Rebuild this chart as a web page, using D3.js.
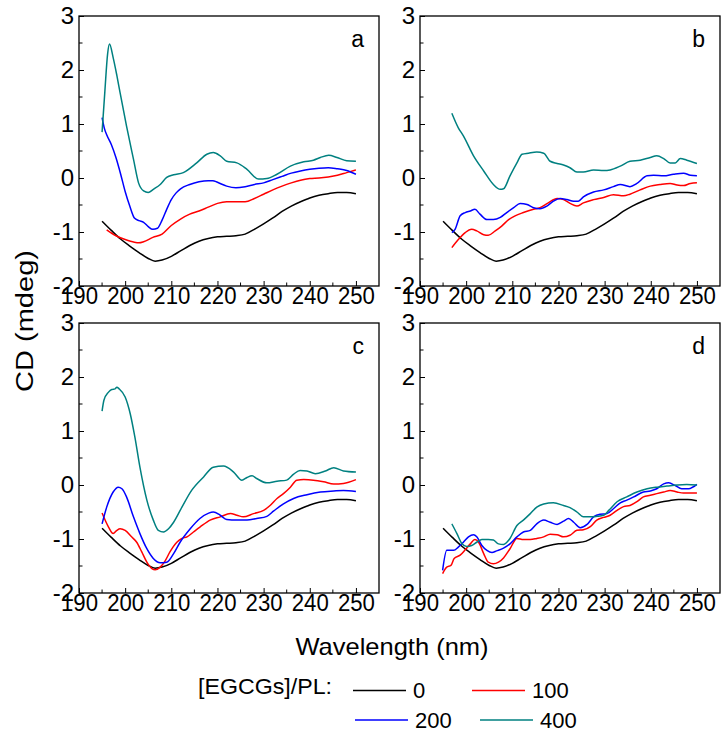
<!DOCTYPE html>
<html><head><meta charset="utf-8">
<script src="https://cdn.jsdelivr.net/npm/d3@7"></script>
<style>
html,body{margin:0;padding:0;background:#fff;}
svg text{font-family:"Liberation Sans",Arial,sans-serif;fill:#000;}
</style></head>
<body><svg id="chart" width="726" height="734"></svg>
<script>
// ---------- data ----------
const ratios = ["0", "100", "200", "400"];
const seriesColors = ["#000000", "#ff0000", "#0000ff", "#008080"];
const panelLabels = ["a", "b", "c", "d"];
const xTicks = [190, 200, 210, 220, 230, 240, 250];
const yTicks = [-2, -1, 0, 1, 2, 3];

// [EGCGs]/PL = 0 (same control spectrum in every panel)
const control = [[195,-0.80],[197,-0.97],[199,-1.13],[201,-1.26],[203,-1.38],[205,-1.49],[206.5,-1.54],[208,-1.52],[210,-1.45],[212,-1.35],[214,-1.25],[216,-1.17],[218,-1.12],[220,-1.09],[222,-1.08],[224,-1.07],[226,-1.04],[228,-0.95],[230,-0.85],[232,-0.74],[234,-0.62],[236,-0.52],[238,-0.44],[240,-0.37],[242,-0.32],[244,-0.29],[246,-0.27],[248,-0.27],[250,-0.29]];

// panel a
const a100 = [[196,-0.96],[198,-1.07],[200,-1.14],[202,-1.19],[203,-1.20],[204,-1.18],[206,-1.10],[208,-1.04],[210,-0.88],[212,-0.76],[214,-0.67],[216,-0.61],[218,-0.54],[220,-0.47],[222,-0.44],[224,-0.44],[226,-0.44],[228,-0.38],[230,-0.30],[232,-0.22],[234,-0.15],[236,-0.09],[238,-0.04],[240,-0.01],[242,0.00],[244,0.02],[246,0.05],[248,0.10],[250,0.15]];
const a200 = [[195,1.12],[195.5,0.92],[196,0.80],[197,0.62],[198,0.38],[199,0.08],[200,-0.25],[201,-0.52],[202,-0.74],[203,-0.79],[204,-0.82],[205,-0.90],[206,-0.95],[207,-0.93],[208,-0.78],[209,-0.58],[210,-0.40],[211,-0.28],[212,-0.20],[214,-0.12],[216,-0.07],[218,-0.05],[219,-0.05],[220,-0.08],[222,-0.15],[224,-0.18],[226,-0.16],[228,-0.12],[230,-0.09],[232,-0.03],[234,0.03],[236,0.09],[238,0.13],[240,0.16],[242,0.18],[244,0.19],[246,0.17],[248,0.14],[250,0.07]];
const a400 = [[195,0.85],[195.6,1.6],[196.2,2.3],[196.6,2.48],[197.4,2.23],[198.2,1.90],[198.9,1.58],[200.3,0.96],[201.8,0.35],[202.9,-0.09],[204,-0.24],[205,-0.27],[206.1,-0.21],[207.6,-0.12],[209,0.01],[210.5,0.06],[212.6,0.10],[215.5,0.28],[217.7,0.44],[219.1,0.47],[220.6,0.41],[222,0.31],[224.2,0.28],[226.4,0.16],[228.9,-0.02],[230.7,-0.01],[232.9,0.07],[235.8,0.22],[238.7,0.30],[240.8,0.33],[242.3,0.38],[244.1,0.42],[245.9,0.38],[248,0.32],[250,0.31]];

// panel b
const b100 = [[196.9,-1.29],[198.3,-1.14],[199.8,-1.01],[201.2,-0.95],[202.3,-0.98],[203.8,-1.05],[204.8,-1.06],[206.3,-0.98],[207.7,-0.89],[209.2,-0.77],[210.6,-0.70],[212.4,-0.64],[214.6,-0.58],[216,-0.55],[217.8,-0.46],[219.7,-0.38],[221.1,-0.40],[222.5,-0.47],[224,-0.52],[225.4,-0.46],[227.6,-0.40],[229.8,-0.36],[231.9,-0.31],[234.1,-0.33],[235.5,-0.30],[237.7,-0.22],[239.9,-0.15],[242,-0.12],[244.2,-0.10],[245.7,-0.13],[247.1,-0.14],[248.6,-0.10],[250,-0.09]];
const b200 = [[196.9,-1.01],[197.6,-0.95],[198.7,-0.70],[199.8,-0.64],[200.9,-0.61],[201.9,-0.58],[203,-0.67],[204.5,-0.77],[205.9,-0.77],[207.4,-0.73],[208.8,-0.64],[210.3,-0.55],[211.7,-0.47],[213.2,-0.49],[214.6,-0.55],[216,-0.57],[217.5,-0.52],[218.9,-0.43],[220.4,-0.38],[221.8,-0.40],[223.3,-0.43],[224.3,-0.43],[225.4,-0.35],[227.6,-0.26],[229.8,-0.22],[231.9,-0.16],[233.4,-0.12],[235.5,-0.16],[237,-0.10],[239.2,0.04],[240.6,0.05],[242.8,0.04],[244.9,0.07],[247.1,0.09],[248.6,0.05],[250,0.04]];
const b400 = [[196.9,1.20],[198.3,0.93],[199.4,0.78],[201.6,0.41],[203.8,0.13],[205.9,-0.12],[207.4,-0.21],[208.1,-0.20],[209.5,0.04],[211,0.28],[212.1,0.44],[213.5,0.46],[215.3,0.48],[216.8,0.46],[218.2,0.31],[219.7,0.27],[221.1,0.24],[222.5,0.19],[224,0.11],[225.4,0.11],[227.6,0.15],[229.8,0.14],[231.2,0.15],[233.4,0.22],[235.5,0.31],[237.7,0.33],[239.9,0.38],[241.3,0.41],[242.8,0.36],[244.2,0.28],[245.3,0.28],[246.4,0.36],[247.8,0.33],[250,0.27]];

// panel c
const c100 = [[195,-0.52],[196.4,-0.78],[197.4,-0.90],[198.2,-0.84],[198.9,-0.81],[200,-0.84],[201.4,-0.96],[202.5,-1.06],[203.6,-1.24],[204.7,-1.43],[205.8,-1.55],[206.5,-1.57],[207.6,-1.52],[208.7,-1.40],[209.7,-1.24],[211.2,-1.06],[212.3,-0.99],[213.4,-0.96],[214.8,-0.87],[216.2,-0.78],[218.4,-0.65],[220.6,-0.59],[222.8,-0.53],[224.2,-0.56],[225.6,-0.59],[227.8,-0.53],[230,-0.47],[231.4,-0.38],[232.9,-0.25],[234.3,-0.16],[235.8,-0.04],[237.2,0.09],[238.7,0.10],[240.8,0.09],[243,0.06],[245.2,0.02],[247.3,0.03],[250,0.10]];
const c200 = [[195,-0.72],[196,-0.41],[197.4,-0.13],[198.5,-0.04],[199.3,-0.07],[200.3,-0.22],[201.8,-0.59],[203.2,-0.90],[204.7,-1.18],[206.1,-1.36],[207.6,-1.44],[209,-1.43],[210.5,-1.27],[211.9,-1.06],[214.1,-0.81],[216.2,-0.62],[218.1,-0.52],[219.1,-0.50],[220.6,-0.56],[222,-0.64],[224.2,-0.65],[226.4,-0.65],[228.5,-0.62],[230.7,-0.58],[232.2,-0.48],[234.3,-0.35],[236.5,-0.25],[239.4,-0.18],[242.3,-0.13],[245.2,-0.11],[247.3,-0.10],[250,-0.12]];
const c400 = [[195,1.37],[195.4,1.57],[196.4,1.72],[197.1,1.77],[197.8,1.78],[198.2,1.81],[198.7,1.78],[200,1.63],[201.1,1.32],[202.1,0.89],[203.2,0.33],[204.7,-0.28],[206.1,-0.65],[207.2,-0.84],[208.3,-0.87],[209.4,-0.81],[210.5,-0.69],[212.3,-0.41],[214.4,-0.10],[217,0.15],[219.1,0.33],[221.3,0.35],[223.5,0.24],[225.3,0.09],[226.4,0.14],[227.5,0.17],[228.5,0.12],[230.7,0.04],[232.9,0.07],[235,0.09],[236.5,0.20],[237.9,0.27],[239.4,0.26],[241.2,0.21],[243.4,0.26],[245.2,0.32],[247.3,0.26],[250,0.24]];

// panel d
const d100 = [[194.9,-1.64],[195.8,-1.52],[196.7,-1.49],[197.4,-1.36],[198.7,-1.30],[199.8,-1.20],[200.9,-1.09],[201.9,-1.01],[202.7,-1.06],[203.8,-1.27],[204.8,-1.43],[205.9,-1.46],[207,-1.43],[208.1,-1.35],[209.5,-1.18],[211,-0.99],[212.4,-1.01],[213.9,-1.01],[215.3,-0.99],[216.8,-0.96],[218.2,-0.91],[219.7,-0.92],[221.1,-0.96],[222.5,-0.93],[224,-0.84],[225.4,-0.83],[226.9,-0.77],[228.3,-0.65],[229.8,-0.60],[231.2,-0.56],[232.7,-0.47],[234.1,-0.40],[235.5,-0.38],[237,-0.31],[238.4,-0.22],[239.9,-0.19],[241.3,-0.16],[242.8,-0.13],[244.2,-0.10],[245.7,-0.13],[247.1,-0.15],[248.6,-0.15],[250,-0.15]];
const d200 = [[194.9,-1.58],[195.8,-1.21],[197.3,-1.21],[198.3,-1.15],[199.4,-1.06],[200.5,-0.96],[201.6,-0.92],[202.3,-0.96],[203.4,-1.12],[204.5,-1.21],[205.6,-1.25],[206.6,-1.22],[208.1,-1.17],[209.5,-1.09],[211,-0.96],[212.4,-0.87],[213.9,-0.84],[215.3,-0.72],[216.8,-0.65],[218.2,-0.69],[219.7,-0.73],[221.1,-0.67],[222.2,-0.62],[223.3,-0.69],[224.7,-0.79],[226.2,-0.73],[227.6,-0.59],[229,-0.54],[230.5,-0.53],[231.9,-0.44],[233.4,-0.33],[234.8,-0.28],[236.3,-0.22],[238.4,-0.13],[239.9,-0.11],[241.3,-0.07],[242.8,0.02],[243.9,0.04],[245.3,-0.01],[246.7,-0.07],[248.2,-0.07],[250,0.01]];
const d400 = [[196.9,-0.72],[198,-0.90],[199.1,-1.09],[200.1,-1.14],[201.2,-1.12],[202.3,-1.06],[203.4,-1.01],[204.8,-1.01],[205.9,-1.02],[207,-1.09],[208.1,-1.10],[209.5,-0.99],[211,-0.75],[212.4,-0.65],[213.9,-0.53],[215.3,-0.41],[216.8,-0.35],[218.9,-0.33],[221.1,-0.38],[222.5,-0.42],[224,-0.50],[225.4,-0.59],[226.9,-0.59],[228.3,-0.58],[229.8,-0.56],[230.9,-0.47],[232.7,-0.31],[234.8,-0.22],[237,-0.13],[239.2,-0.07],[241.3,-0.04],[243.5,-0.02],[245.7,0.00],[247.8,0.01],[250,0.00]];

const panelSeries = [
  [control, a100, a200, a400],
  [control, b100, b200, b400],
  [control, c100, c200, c400],
  [control, d100, d200, d400]
];

// ---------- layout ----------
const svg = d3.select("#chart");
const pw = 300, ph = 270;
const origins = [[79, 16], [420, 16], [79, 323], [420, 323]];
const FS = 22;

panelSeries.forEach((series, i) => {
  const [ox, oy] = origins[i];
  const x = d3.scaleLinear().domain([190, 255]).range([0, pw]);
  const y = d3.scaleLinear().domain([-2, 3]).range([ph, 0]);
  const g = svg.append("g").attr("transform", `translate(${ox},${oy})`);

  const clipId = "clip" + i;
  g.append("clipPath").attr("id", clipId).append("rect").attr("width", pw).attr("height", ph);

  // minor ticks (inward)
  const xMinor = d3.range(195, 255, 10);
  const yMinor = d3.range(-1.5, 3, 1);
  g.selectAll(".xmin").data(xMinor).join("line")
    .attr("x1", d => x(d)).attr("x2", d => x(d)).attr("y1", ph).attr("y2", ph - 3.5)
    .attr("stroke", "#000").attr("stroke-width", 1);
  g.selectAll(".ymin").data(yMinor).join("line")
    .attr("y1", d => y(d)).attr("y2", d => y(d)).attr("x1", 0).attr("x2", 3.5)
    .attr("stroke", "#000").attr("stroke-width", 1);

  // axes with inward major ticks
  const xAxis = d3.axisBottom(x).tickValues(xTicks).tickSize(-5).tickPadding(3).tickFormat(d3.format("d"));
  const yAxis = d3.axisLeft(y).tickValues(yTicks).tickSize(-5).tickPadding(5).tickFormat(d3.format("d"));
  const gx = g.append("g").attr("transform", `translate(0,${ph})`).call(xAxis);
  const gy = g.append("g").call(yAxis);
  [gx, gy].forEach(a => {
    a.select(".domain").remove();
    a.selectAll("line").attr("stroke", "#000").attr("stroke-width", 1);
    a.selectAll("text").attr("font-size", 24).attr("font-family", "Liberation Sans, Arial, sans-serif").attr("fill", "#000");
  });
  gx.selectAll("text").attr("dy", "0.71em").attr("y", 1)
    .attr("textLength", 37).attr("lengthAdjust", "spacingAndGlyphs");
  gy.selectAll("text").text(d => d < 0 ? "-" + Math.abs(d) : d);

  // lines
  const line = d3.line().x(d => x(d[0])).y(d => y(d[1])).curve(d3.curveMonotoneX);
  g.append("g").attr("clip-path", `url(#${clipId})`)
    .selectAll("path").data(series).join("path")
    .attr("d", d => line(d)).attr("fill", "none")
    .attr("stroke", (d, k) => seriesColors[k]).attr("stroke-width", 1.5)
    .attr("stroke-linejoin", "round");

  // frame
  g.append("rect").attr("width", pw).attr("height", ph)
    .attr("fill", "none").attr("stroke", "#000").attr("stroke-width", 1.3);

  // panel label
  g.append("text").attr("x", pw - 15).attr("y", 31).attr("text-anchor", "end")
    .attr("font-size", 23).text(panelLabels[i]);
});

// axis titles
svg.append("text").attr("x", 392).attr("y", 655).attr("text-anchor", "middle")
  .attr("font-size", 24).attr("textLength", 193).attr("lengthAdjust", "spacingAndGlyphs")
  .text("Wavelength (nm)");
svg.append("text").attr("transform", "translate(33,321) rotate(-90)").attr("text-anchor", "middle")
  .attr("font-size", 23).attr("textLength", 142).attr("lengthAdjust", "spacingAndGlyphs")
  .text("CD (mdeg)");

// legend
svg.append("text").attr("x", 198).attr("y", 694).attr("font-size", FS)
  .attr("textLength", 134).attr("lengthAdjust", "spacingAndGlyphs").text("[EGCGs]/PL:");
const legendPos = [[353, 690.5], [472, 690.5], [355, 720], [480, 720]];
ratios.forEach((r, k) => {
  const [lx, ly] = legendPos[k];
  svg.append("line").attr("x1", lx).attr("x2", lx + 53).attr("y1", ly).attr("y2", ly)
    .attr("stroke", seriesColors[k]).attr("stroke-width", 1.5);
  svg.append("text").attr("x", lx + 60).attr("y", ly + 7.5).attr("font-size", FS).text(r);
});
</script></body></html>
